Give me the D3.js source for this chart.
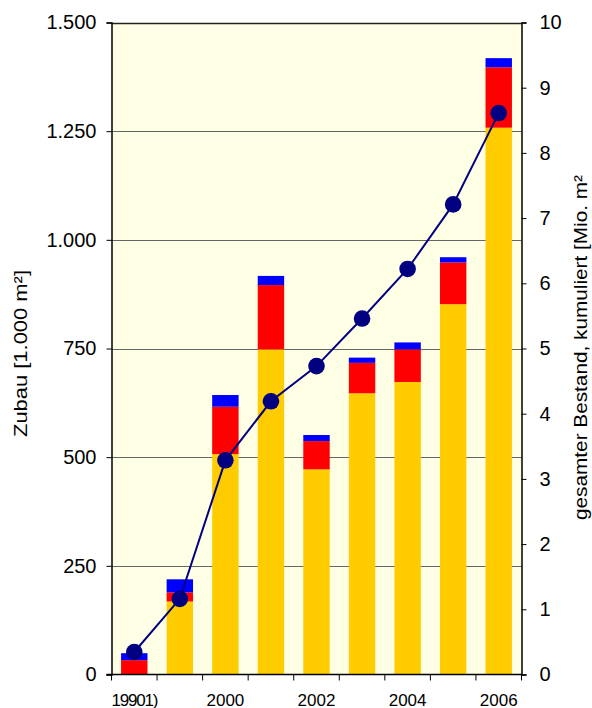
<!DOCTYPE html>
<html>
<head>
<meta charset="utf-8">
<script src="https://cdn.jsdelivr.net/npm/d3@7"></script>
<style>
  html, body { margin: 0; padding: 0; background: #fff; }
  svg { display: block; font-family: "Liberation Sans", Arial, sans-serif; }
</style>
</head>
<body>
<svg id="chart" width="592" height="708"></svg>
<script>
// Jahre (Kategorien) und Achsenbeschriftungen
const years = ["1990", "1999", "2000", "2001", "2002", "2003", "2004", "2005", "2006"];
const yearLabels = ["19901)", "", "2000", "", "2002", "", "2004", "", "2006"];

// jährlicher Zubau in 1.000 m², gestapelt
const zubauGelb = [0, 168, 507, 748, 472, 647, 673, 852, 1258];
const zubauRot  = [33, 21, 109, 148, 65, 70, 75, 96, 139];
const zubauBlau = [16, 30, 27, 21, 14, 12, 16, 12, 21];

// gesamter Bestand, kumuliert in Mio. m²
const bestand = [0.345, 1.16, 3.285, 4.19, 4.73, 5.46, 6.22, 7.21, 8.61];

const leftTicks = [0, 250, 500, 750, 1000, 1250, 1500];
const leftTickLabels = ["0", "250", "500", "750", "1.000", "1.250", "1.500"];
const rightTicks = [0, 1, 2, 3, 4, 5, 6, 7, 8, 9, 10];

const svg = d3.select("#chart");
const plot = { left: 111.5, right: 521.5, top: 22.5, bottom: 674.5 };

const x = d3.scaleBand()
  .domain(years)
  .range([plot.left, plot.right])
  .paddingInner(0.42)
  .paddingOuter(0.21);

const yLeft = d3.scaleLinear().domain([0, 1500]).range([plot.bottom, plot.top]);
const yRight = d3.scaleLinear().domain([0, 10]).range([plot.bottom, plot.top]);

// Hintergrund der Zeichenfläche
svg.append("rect")
  .attr("x", plot.left).attr("y", plot.top)
  .attr("width", plot.right - plot.left).attr("height", plot.bottom - plot.top)
  .attr("fill", "#FFFFE6");

// Gitternetzlinien
svg.append("g")
  .selectAll("line")
  .data(leftTicks.filter(d => d > 0))
  .join("line")
  .attr("x1", plot.left).attr("x2", plot.right)
  .attr("y1", d => Math.round(yLeft(d)) + 0.5).attr("y2", d => Math.round(yLeft(d)) + 0.5)
  .attr("stroke", d => d === 1500 ? "#222" : "#666")
  .attr("stroke-width", d => d === 1500 ? 1.5 : 1);

// gestapelte Säulen
const rows = years.map((yr, i) => ({ year: yr, gelb: zubauGelb[i], rot: zubauRot[i], blau: zubauBlau[i] }));
const keys = ["gelb", "rot", "blau"];
const colors = { gelb: "#FFCC00", rot: "#FF0000", blau: "#0000FF" };
const stacked = d3.stack().keys(keys)(rows);

svg.append("g")
  .selectAll("g")
  .data(stacked)
  .join("g")
  .attr("fill", s => colors[s.key])
  .selectAll("rect")
  .data(s => s)
  .join("rect")
  .attr("x", d => x(d.data.year))
  .attr("width", x.bandwidth())
  .attr("y", d => yLeft(d[1]))
  .attr("height", d => Math.max(0, yLeft(d[0]) - yLeft(d[1])));

// Linie des kumulierten Bestands
const cx = d => x(d) + x.bandwidth() / 2;
svg.append("path")
  .datum(years.map((yr, i) => [cx(yr), yRight(bestand[i])]))
  .attr("d", d3.line())
  .attr("fill", "none")
  .attr("stroke", "#000080")
  .attr("stroke-width", 2);

svg.append("g")
  .selectAll("circle")
  .data(years)
  .join("circle")
  .attr("cx", d => cx(d))
  .attr("cy", (d, i) => yRight(bestand[i]))
  .attr("r", 8.3)
  .attr("fill", "#000080");

// linke Achse
const leftAxis = svg.append("g")
  .attr("transform", `translate(${plot.left},0)`)
  .call(d3.axisLeft(yLeft).tickValues(leftTicks).tickFormat((d, i) => leftTickLabels[i]).tickSize(5).tickPadding(10));
leftAxis.select(".domain").attr("stroke", "#000").attr("stroke-width", 1.5);
leftAxis.selectAll(".tick line").attr("stroke", "#000");
leftAxis.selectAll(".tick text").attr("font-size", 20).attr("fill", "#000")
  .attr("font-family", "Liberation Sans, Arial, sans-serif");

// rechte Achse
const rightAxis = svg.append("g")
  .attr("transform", `translate(${plot.right},0)`)
  .call(d3.axisRight(yRight).tickValues(rightTicks).tickFormat(d3.format("d")).tickSize(5).tickPadding(13));
rightAxis.select(".domain").attr("stroke", "#000").attr("stroke-width", 1.5);
rightAxis.selectAll(".tick line").attr("stroke", "#000");
rightAxis.selectAll(".tick text").attr("font-size", 20).attr("fill", "#000")
  .attr("font-family", "Liberation Sans, Arial, sans-serif");

// untere Achse mit Teilstrichen zwischen den Jahren
const xAxisG = svg.append("g");
xAxisG.append("line")
  .attr("x1", plot.left - 5).attr("x2", plot.right)
  .attr("y1", plot.bottom).attr("y2", plot.bottom)
  .attr("stroke", "#000").attr("stroke-width", 1.5);
const step = x.step();
const x0 = x(years[0]) - x.paddingOuter() * step;
xAxisG.selectAll("line.tk")
  .data(d3.range(years.length + 1))
  .join("line")
  .attr("class", "tk")
  .attr("x1", i => x0 + i * step).attr("x2", i => x0 + i * step)
  .attr("y1", plot.bottom).attr("y2", plot.bottom + 6)
  .attr("stroke", "#000");
xAxisG.selectAll("text")
  .data(years.filter((d, i) => yearLabels[i] !== ""))
  .join("text")
  .attr("x", d => cx(d))
  .attr("y", 705.5)
  .attr("text-anchor", "middle")
  .attr("font-size", 17)
  .attr("fill", "#000")
  .attr("letter-spacing", d => yearLabels[years.indexOf(d)].length > 4 ? -1.2 : 0)
  .text(d => yearLabels[years.indexOf(d)]);

// Achsentitel
svg.append("text")
  .attr("transform", "translate(27,353.5) rotate(-90)")
  .attr("text-anchor", "middle")
  .attr("font-size", 19)
  .attr("textLength", 167)
  .attr("lengthAdjust", "spacingAndGlyphs")
  .text("Zubau [1.000 m²]");

svg.append("text")
  .attr("transform", "translate(587,347.5) rotate(-90)")
  .attr("text-anchor", "middle")
  .attr("font-size", 19)
  .attr("textLength", 345)
  .attr("lengthAdjust", "spacingAndGlyphs")
  .text("gesamter Bestand, kumuliert [Mio. m²");
</script>
</body>
</html>
